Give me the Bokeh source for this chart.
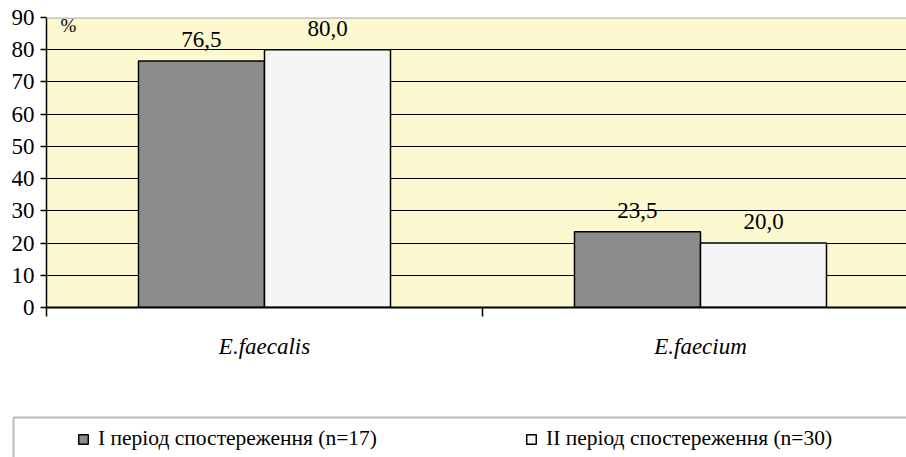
from bokeh.plotting import figure
from bokeh.layouts import column
from bokeh.models import (ColumnDataSource, Range1d, FixedTicker, LabelSet, Label,
                          Legend, LegendItem, Span, BoxAnnotation)
from bokeh.transform import dodge
from bokeh.core.properties import value
from bokeh.embed import file_html
from bokeh.resources import INLINE

# ---- data ----
categories = ["E.faecalis", "E.faecium"]
period_1 = [76.5, 23.5]
period_2 = [80.0, 20.0]
series_names = ["I період спостереження (n=17)", "II період спостереження (n=30)"]
y_ticks = [0, 10, 20, 30, 40, 50, 60, 70, 80, 90]
unit_label = "%"


def fmt(v):
    return f"{v:.1f}".replace(".", ",")


cat_x = [i + 0.5 for i in range(len(categories))]
bounds = [float(i) for i in range(len(categories) + 1)]

src = ColumnDataSource(dict(
    x=cat_x,
    p1=period_1,
    p2=period_2,
    l1=[fmt(v) for v in period_1],
    l2=[fmt(v) for v in period_2],
))

FONT = "Liberation Serif"
BAR_W = 0.289
OFF = BAR_W / 2
GREY = "#8c8c8c"
WHITE = "#f5f5f5"

p = figure(width=906, height=400, output_backend="svg", toolbar_location=None,
           x_range=Range1d(0, 860 / 436), y_range=Range1d(0, 90),
           min_border_left=46, min_border_right=0, min_border_top=17,
           min_border_bottom=93)
p.frame_align = False

p.background_fill_color = "#fcf8cf"
p.border_fill_color = "white"
p.outline_line_color = None

p.vbar(x=dodge("x", -OFF, range=p.x_range), top="p1", width=BAR_W, source=src,
       fill_color=GREY, line_color="black", line_width=1.5)
p.vbar(x=dodge("x", OFF, range=p.x_range), top="p2", width=BAR_W, source=src,
       fill_color=WHITE, line_color="black", line_width=1.5)

for col, lab, off in (("p1", "l1", -OFF), ("p2", "l2", OFF)):
    p.add_layout(LabelSet(x=dodge("x", off, range=p.x_range), y=col, text=lab, source=src,
                          text_align="center", text_baseline="alphabetic", y_offset=14,
                          text_font=value(FONT), text_font_size="23px",
                          text_color="black"))

# top border
p.add_layout(Span(location=90, dimension="width", line_color="#b8b8b8", line_width=2.5))

# y axis
p.yaxis.ticker = FixedTicker(ticks=y_ticks)
p.yaxis.axis_line_color = "black"
p.yaxis.axis_line_width = 1.5
p.yaxis.major_tick_out = 6
p.yaxis.major_tick_in = 0
p.yaxis.major_tick_line_color = "black"
p.yaxis.major_tick_line_width = 1.5
p.yaxis.minor_tick_out = 0
p.yaxis.minor_tick_in = 0
p.yaxis.major_label_standoff = 6
p.yaxis.major_label_text_font = FONT
p.yaxis.major_label_text_font_size = "23px"
p.yaxis.major_label_text_color = "black"

# x axis
p.xaxis.ticker = FixedTicker(ticks=cat_x, minor_ticks=bounds)
p.xaxis.major_label_overrides = {x: c for x, c in zip(cat_x, categories)}
p.xaxis.axis_line_color = "black"
p.xaxis.axis_line_width = 2
p.xaxis.major_tick_out = 0
p.xaxis.major_tick_in = 0
p.xaxis.minor_tick_out = 9
p.xaxis.minor_tick_in = 0
p.xaxis.minor_tick_line_color = "black"
p.xaxis.minor_tick_line_width = 1.5
p.xaxis.major_label_standoff = 17
p.xaxis.major_label_text_font = FONT
p.xaxis.major_label_text_font_style = "italic"
p.xaxis.major_label_text_font_size = "23px"
p.xaxis.major_label_text_color = "black"

p.xgrid.visible = False
p.ygrid.grid_line_color = "black"
p.ygrid.grid_line_width = 1

p.add_layout(Label(x=14, y=90, x_units="screen", text=unit_label, text_baseline="top",
                   y_offset=3, text_font=FONT, text_font_size="19px",
                   text_color="black"))

# ---- legend strip ----
q = figure(width=906, height=57, output_backend="svg", toolbar_location=None,
           x_range=Range1d(0, 906), y_range=Range1d(0, 57),
           x_axis_type=None, y_axis_type=None, min_border=0)
q.frame_align = False
q.outline_line_color = None
q.background_fill_color = "white"
q.border_fill_color = "white"
q.grid.visible = False

q.add_layout(BoxAnnotation(left=13, right=2000, top=40, bottom=-100,
                           fill_alpha=0, line_color="#1a1a1a", line_width=2))

k1 = q.vbar(x="x", top="p1", width=BAR_W, source=src, fill_color=GREY,
            line_color="black", line_width=1.5, visible=False)
k2 = q.vbar(x="x", top="p2", width=BAR_W, source=src, fill_color=WHITE,
            line_color="black", line_width=1.5, visible=False)

legend = Legend(items=[LegendItem(label=series_names[0], renderers=[k1]),
                       LegendItem(label=series_names[1], renderers=[k2])],
                orientation="horizontal", location=(77, 6), padding=0, margin=0,
                spacing=0, glyph_width=12, glyph_height=12, label_standoff=9,
                label_width=427, border_line_color=None, background_fill_alpha=0,
                inactive_fill_alpha=0, click_policy="none",
                label_text_font=FONT, label_text_font_size="21.5px",
                label_text_color="black")
q.add_layout(legend)

layout = column(p, q, spacing=0)
open("out.html", "w").write(file_html(layout, INLINE))
